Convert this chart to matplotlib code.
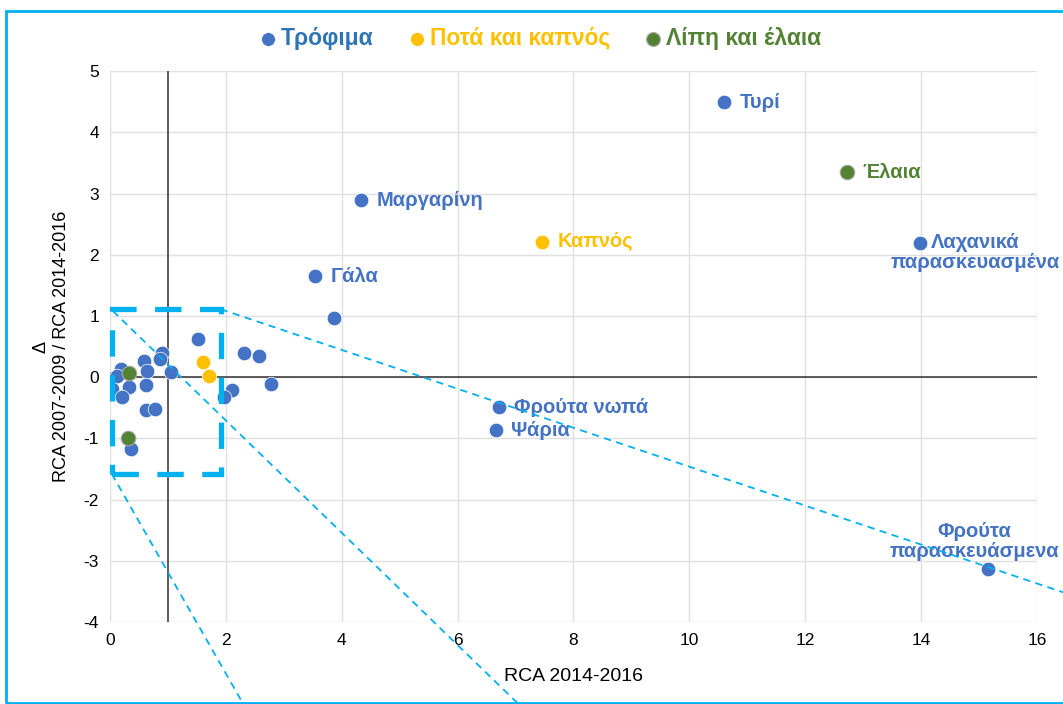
import matplotlib.pyplot as plt
from matplotlib.patches import Rectangle

plt.rcParams['font.family'] = ['Liberation Sans', 'DejaVu Sans']
plt.rcParams['axes.unicode_minus'] = False

# Τρόφιμα
food_x = [10.6, 4.33, 13.98, 3.54, 3.87, 6.71, 6.66, 15.15,
          1.51, 0.90, 0.87, 0.58, 0.63, 1.06, 0.19, 0.06, 0.12, 0.03,
          0.32, 0.62, 0.21, 0.62, 0.78, 0.36, 2.31, 2.58, 2.78, 2.11, 1.96]
food_y = [4.49, 2.89, 2.19, 1.65, 0.96, -0.49, -0.87, -3.14,
          0.62, 0.40, 0.29, 0.27, 0.10, 0.08, 0.14, -0.02, 0.02, -0.20,
          -0.16, -0.13, -0.32, -0.54, -0.52, -1.18, 0.39, 0.35, -0.11, -0.21, -0.33]
food_labels = ['Τυρί', 'Μαργαρίνη', 'Λαχανικά\nπαρασκευασμένα', 'Γάλα', '',
               'Φρούτα νωπά', 'Ψάρια', 'Φρούτα\nπαρασκευάσμενα'] + [''] * 21

# Ποτά και καπνός
drink_x = [7.46, 1.61, 1.70]
drink_y = [2.21, 0.25, 0.02]
drink_labels = ['Καπνός', '', '']

# Λίπη και έλαια
fat_x = [12.72, 0.33, 0.31]
fat_y = [3.35, 0.07, -0.99]
fat_labels = ['Έλαια', '', '']

blue = '#4472C4'
yellow = '#FFC000'
green = '#548235'
cyan = '#00B0F0'

fig = plt.figure(figsize=(10.63, 7.04), dpi=100)
ax = fig.add_axes([0.1035, 0.1165, 0.872, 0.7825])

ax.set_xlim(0, 16)
ax.set_ylim(-4, 5)
ax.set_xticks(range(0, 17, 2))
ax.set_yticks(range(-4, 6))
ax.grid(True, color='#E0E0E0', lw=1)
ax.set_axisbelow(True)
for s in ax.spines.values():
    s.set_visible(False)
ax.tick_params(length=0, labelsize=12.5, pad=8)

ax.axvline(1, color='#404040', lw=1.2, zorder=1)
ax.axhline(0, color='#404040', lw=1.2, zorder=1)

ax.scatter(food_x, food_y, s=110, color=blue, edgecolor='white', lw=0.5,
           zorder=3, label='Τρόφιμα')
ax.scatter(drink_x, drink_y, s=110, color=yellow, edgecolor='white', lw=0.5,
           zorder=3, label='Ποτά και καπνός')
ax.scatter(fat_x, fat_y, s=110, color=green, edgecolor='#AAAAAA', lw=0.8,
           zorder=3, label='Λίπη και έλαια')

for xs, ys, labs, c in [(food_x, food_y, food_labels, blue),
                        (drink_x, drink_y, drink_labels, yellow),
                        (fat_x, fat_y, fat_labels, green)]:
    for x, y, t in zip(xs, ys, labs):
        if not t:
            continue
        if t.startswith('Λαχανικά'):
            off, ha, va = (40, -6.5), 'center', 'center'
        elif t.startswith('Φρούτα\n'):
            off, ha, va = (-9.5, 20), 'center', 'center'
        else:
            off, ha, va = (11, 0), 'left', 'center'
        ax.annotate(t, (x, y), xytext=off, textcoords='offset points',
                    ha=ha, va=va, color=c, fontsize=14.5, fontweight='bold',
                    linespacing=1.05, zorder=4, annotation_clip=False)

# zoom box and guide lines
ax.add_patch(Rectangle((0.03, -1.58), 1.88, 2.69, fill=False, ec=cyan,
                       lw=3.8, ls=(0, (5, 3.5)), zorder=5, clip_on=False))
guides = [((1.91, 16.5), (1.11, -3.53)),
          ((0.05, 7.05), (1.08, -5.34)),
          ((0.03, 2.3), (-1.58, -5.34))]
for gx, gy in guides:
    ax.plot(gx, gy, color=cyan, lw=1.3, ls=(0, (4, 3)), zorder=5, clip_on=False)

ax.set_xlabel('RCA 2014-2016', fontsize=14, labelpad=14)
ax.set_ylabel('Δ\nRCA 2007-2009 / RCA 2014-2016', fontsize=13, labelpad=10)

leg = fig.legend(loc='center', bbox_to_anchor=(0.508, 0.946), ncol=3,
                 frameon=False, handlelength=0.8, handletextpad=0.15,
                 columnspacing=1.5, markerscale=0.95,
                 prop={'size': 16.5, 'weight': 'bold'})
for text, c in zip(leg.get_texts(), ['#2E75B6', yellow, green]):
    text.set_color(c)

fig.patches.append(Rectangle((6 / 1063, 1 / 704), 1.0, 692 / 704, fill=False,
                             ec=cyan, lw=2, transform=fig.transFigure))

fig.savefig('out.png', dpi=100)
